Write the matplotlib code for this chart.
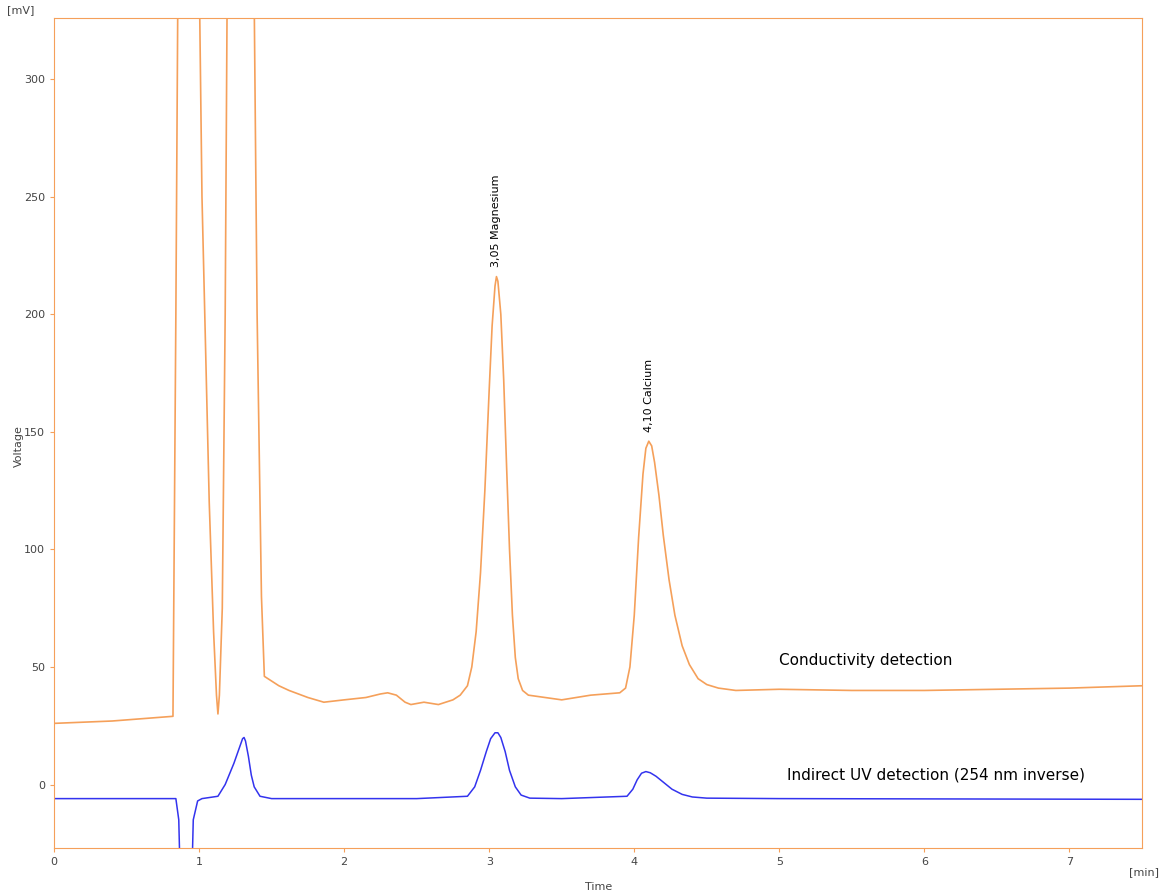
import matplotlib.pyplot as plt

# conductivity trace (orange)
cond_t = [0.0, 0.4, 0.82, 0.84, 0.86, 0.99, 1.02, 1.07, 1.10, 1.12, 1.13, 1.14, 1.16, 1.18, 1.20, 1.37, 1.40, 1.43, 1.45,
          1.55, 1.62, 1.75, 1.86, 2.0, 2.15, 2.25, 2.3, 2.36, 2.42, 2.46, 2.55, 2.65, 2.75, 2.80, 2.85, 2.88, 2.91, 2.94,
          2.97, 3.00, 3.02, 3.04, 3.05, 3.06, 3.08, 3.10, 3.12, 3.14, 3.16, 3.18, 3.20, 3.23, 3.27, 3.5, 3.7,
          3.90, 3.94, 3.97, 4.00, 4.03, 4.06, 4.08, 4.10, 4.12, 4.14, 4.17, 4.20, 4.24, 4.28, 4.33, 4.38, 4.44,
          4.50, 4.58, 4.7, 5.0, 5.5, 6.0, 6.5, 7.0, 7.5]
cond_v = [26, 27, 29, 200, 400, 400, 250, 120, 65, 38, 30, 38, 75, 200, 400, 400, 200, 80, 46,
          42, 40, 37, 35, 36, 37, 38.5, 39, 38, 35, 34, 35, 34, 36, 38, 42, 50, 65, 90,
          125, 168, 195, 212, 216, 214, 200, 172, 135, 100, 72, 54, 45, 40, 38, 36, 38,
          39, 41, 50, 72, 105, 132, 143, 146, 144, 137, 123, 106, 87, 72, 59, 51, 45,
          42.5, 41, 40, 40.5, 40, 40, 40.5, 41, 42]

# indirect UV trace (blue)
uv_t = [0.0, 0.84, 0.86, 0.87, 0.95, 0.96, 0.99, 1.02, 1.13, 1.18, 1.24, 1.28, 1.30, 1.31, 1.32, 1.34, 1.36,
        1.38, 1.42, 1.5, 2.5, 2.85, 2.90, 2.94, 2.98, 3.01, 3.04, 3.06, 3.08, 3.11, 3.14, 3.18, 3.22, 3.28,
        3.5, 3.95, 3.99, 4.02, 4.05, 4.08, 4.11, 4.15, 4.20, 4.26, 4.33, 4.40, 4.5, 5.0, 7.5]
uv_v = [-6, -6, -15, -40, -40, -15, -7, -6, -5, 0, 9, 16, 19.5, 20, 18.5, 12, 4,
        -1, -5, -6, -6, -5, -1, 6, 14, 19.5, 22, 22, 20, 14, 6, -1, -4.5, -5.8,
        -6, -5, -2, 2, 4.8, 5.5, 5, 3.5, 1, -2, -4.2, -5.3, -5.8, -6, -6.3]

peak_labels = [(3.05, 216, "3,05 Magnesium"), (4.10, 146, "4,10 Calcium")]

orange = '#f5a05a'
fig = plt.figure(figsize=(11.64, 8.93), dpi=100)
ax = fig.add_axes([0.0464, 0.0504, 0.9347, 0.9295])
ax.plot(cond_t, cond_v, color=orange, lw=1.2)
ax.plot(uv_t, uv_v, color='#3333ee', lw=1.1)
ax.set_xlim(0, 7.5)
ax.set_ylim(-27, 326)
ax.set_xticks(range(8))
ax.set_yticks(range(0, 301, 50))
for s in ax.spines.values():
    s.set_color(orange)
ax.tick_params(colors='#444444', labelsize=8, length=3)
ax.tick_params(axis='x', color=orange)
ax.tick_params(axis='y', color=orange)

for t, v, lab in peak_labels:
    ax.text(t, v + 4, lab, rotation=90, ha='center', va='bottom', fontsize=8)

ax.text(5.0, 51, "Conductivity detection", fontsize=11)
ax.text(5.05, 2, "Indirect UV detection (254 nm inverse)", fontsize=11)

fig.text(0.006, 0.985, "[mV]", fontsize=8, color='#444444')
fig.text(0.97, 0.02, "[min]", fontsize=8, color='#444444')
fig.text(0.514, 0.003, "Time", fontsize=8, color='#444444', ha='center')
fig.text(0.012, 0.5, "Voltage", fontsize=8, color='#444444', rotation=90, va='center')

fig.savefig('out.png', dpi=100)
